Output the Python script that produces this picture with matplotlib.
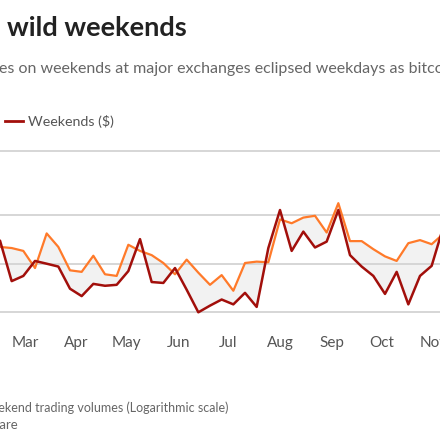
import pandas as pd
import matplotlib
matplotlib.use("Agg")
import matplotlib.pyplot as plt
import matplotlib.dates as mdates

plt.rcParams["font.family"] = ["Lato", "DejaVu Sans"]

# weekly trading volumes (log scale), one point per week
weeks = pd.date_range("2021-02-07", periods=40, freq="7D")
weekdays = [13.2, 12.7, 12.5, 12.0, 9.4, 15.4, 12.7, 9.1, 8.9, 11.2,
            8.6, 8.4, 13.1, 12.0, 11.3, 10.1, 8.6, 10.6, 8.8, 7.4,
            8.5, 6.8, 10.1, 10.3, 10.2, 18.8, 17.8, 19.3, 19.8, 15.6,
            23.7, 13.8, 13.8, 12.3, 11.1, 10.4, 13.4, 14.0, 13.2, 15.3]
weekends = [10.2, 13.9, 7.8, 8.4, 10.4, 10.0, 9.6, 7.0, 6.3, 7.5,
            7.3, 7.4, 9.0, 14.2, 7.7, 7.6, 9.4, 6.9, 5.0, 5.5,
            6.0, 5.6, 6.6, 5.4, 12.5, 21.5, 12.0, 15.8, 12.6, 13.7,
            21.5, 11.3, 9.6, 8.4, 6.5, 8.9, 5.6, 8.4, 9.7, 16.9]
grid_values = [5, 10, 20, 50]

W, H = 440, 440
fig = plt.figure(figsize=(W / 100, H / 100), dpi=100)

ax = fig.add_axes([0.0, 0.2769, 1.0, 0.3866])
ax.set_yscale("log")
ax.set_ylim(4.6, 52)
ax.set_xlim(pd.Timestamp("2021-02-14"), pd.Timestamp("2021-02-14") + pd.Timedelta(days=264))

ax.fill_between(weeks, weekdays, weekends, color="#f2f2f2", lw=0, zorder=1)
ax.plot(weeks, weekdays, color="#ff7a2a", lw=1.6, zorder=3)
ax.plot(weeks, weekends, color="#a20f0b", lw=1.8, zorder=4)

ax.set_yticks(grid_values)
ax.yaxis.set_minor_locator(matplotlib.ticker.NullLocator())
ax.set_yticklabels([])
ax.grid(axis="y", color="#d6d6d6", lw=1.4, zorder=0)
ax.tick_params(axis="y", length=0)

ax.xaxis.set_major_locator(mdates.MonthLocator())
ax.xaxis.set_major_formatter(mdates.DateFormatter("%b"))
ax.tick_params(axis="x", length=0, pad=13, labelsize=11, labelcolor="#555555")
for s in ax.spines.values():
    s.set_visible(False)

def fy(y):
    return 1 - y / H

def fx(x):
    return x / W

fig.text(fx(7), fy(36), "wild weekends", fontsize=19.5, fontweight="bold",
         color="#222222", va="baseline", ha="left")
fig.text(fx(-1), fy(73), "es on weekends at major exchanges eclipsed weekdays as bitcoin",
         fontsize=11.5, color="#666666", va="baseline", ha="left")

fig.add_artist(plt.Line2D([fx(5), fx(22.7)], [fy(121), fy(121)], color="#a20f0b", lw=2))
fig.text(fx(28), fy(121), "Weekends ($)", fontsize=10.3, color="#555555",
         va="center", ha="left")

fig.text(fx(228), fy(412), "Note: Weekday vs weekend trading volumes (Logarithmic scale)",
         fontsize=9, color="#666666", va="baseline", ha="right")
fig.text(fx(18), fy(429), "Source: CryptoCompare",
         fontsize=9.5, color="#666666", va="baseline", ha="right")

fig.savefig("out.png", dpi=100)
